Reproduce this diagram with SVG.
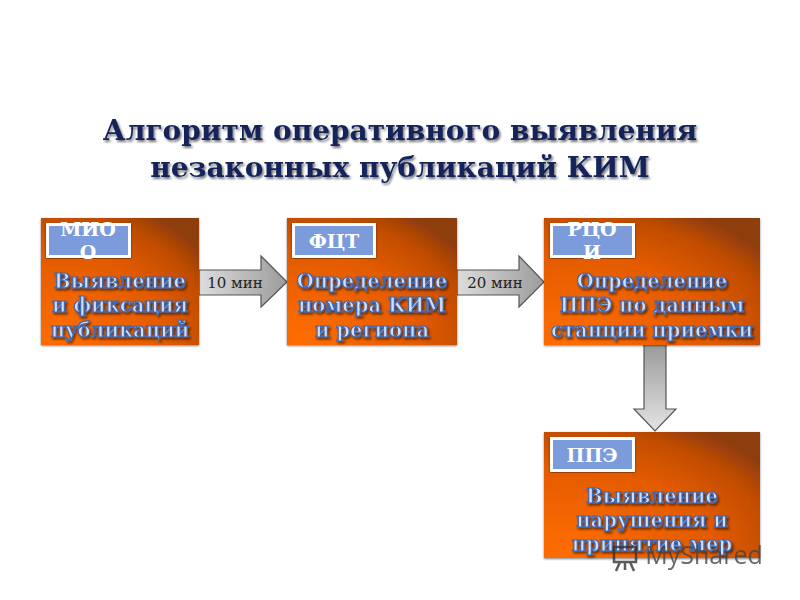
<svg xmlns="http://www.w3.org/2000/svg" width="800" height="600" viewBox="0 0 800 600">
<style>
text{font-family:"DejaVu Serif","Liberation Serif",serif;text-anchor:middle}
.title{font-size:28px;font-weight:bold;fill:#12245a;filter:url(#ts)}
.body{font-size:19.6px;font-weight:bold;fill:#d3e0f4;stroke:#3f67b3;stroke-width:1.2px;filter:url(#ts)}
.box{fill:url(#org);filter:url(#bs)}
.tagbox{fill:#7c9bdb;stroke:#fff;stroke-width:3px;filter:url(#bs)}
.tag{font-size:19px;font-weight:bold;fill:#fff}
.arr{fill:url(#gr);stroke:#555;stroke-width:1.2px}
.arrv{fill:url(#grv);stroke:#555;stroke-width:1.2px}
.min{font-size:15px;fill:#222}
</style>
<defs>
<radialGradient id="org" cx="0.1" cy="0.95" r="1.15"><stop offset="0" stop-color="#ff6d05"/><stop offset="0.6" stop-color="#e25a04"/><stop offset="0.85" stop-color="#c04c05"/><stop offset="1" stop-color="#8e3c08"/></radialGradient>
<linearGradient id="gr" x1="0" y1="0" x2="1" y2="0"><stop offset="0" stop-color="#dcdcdc"/><stop offset="1" stop-color="#9c9c9c"/></linearGradient>
<linearGradient id="grv" x1="0" y1="0" x2="0" y2="1"><stop offset="0" stop-color="#9a9a9a"/><stop offset="1" stop-color="#e4e4e4"/></linearGradient>
<filter id="ts" x="-5%" y="-20%" width="110%" height="150%"><feDropShadow dx="1.5" dy="2" stdDeviation="1.2" flood-color="#000" flood-opacity="0.55"/></filter>
<filter id="bs" x="-5%" y="-5%" width="110%" height="110%"><feDropShadow dx="0" dy="1" stdDeviation="1.2" flood-color="#000" flood-opacity="0.5"/></filter>
</defs>
<rect width="800" height="600" fill="#fff"/>
<g id="title"><text class="title" x="400" y="140">Алгоритм оперативного выявления</text><text class="title" x="400" y="177">незаконных публикаций КИМ</text></g>
<g id="connectors">
<g id="c1"><path class="arr" d="M199 270H261V256L287 282L261 307V295H199Z"/><text class="min" x="235" y="288">10 мин</text></g>
<g id="c2"><path class="arr" d="M457 270H519V256L544 282L519 307V295H457Z"/><text class="min" x="495" y="288">20 мин</text></g>
<path id="c3" class="arrv" d="M644 344H666V409H676L655 431L634 409H644Z"/>
</g>
<g id="n1"><rect class="box" x="41" y="218" width="158" height="127"/><rect class="tagbox" x="47.5" y="224.5" width="82" height="32"/>
<text class="tag" x="88" y="236">МИО</text><text class="tag" x="88" y="259">О</text>
<text class="body" x="120" y="288">Выявление</text><text class="body" x="120" y="312">и фиксация</text><text class="body" x="120" y="337">публикаций</text></g>
<g id="n2"><rect class="box" x="287" y="218" width="170" height="127"/><rect class="tagbox" x="293.5" y="224.5" width="81" height="32"/>
<text class="tag" x="334" y="248">ФЦТ</text>
<text class="body" x="372" y="288">Определение</text><text class="body" x="372" y="312">номера КИМ</text><text class="body" x="372" y="337">и региона</text></g>
<g id="n3"><rect class="box" x="544" y="218" width="216" height="127"/><rect class="tagbox" x="551.5" y="224.5" width="82" height="32"/>
<text class="tag" x="592" y="236">РЦО</text><text class="tag" x="592" y="259">И</text>
<text class="body" x="652" y="288">Определение</text><text class="body" x="652" y="312">ППЭ по данным</text><text class="body" x="652" y="337">станции приемки</text></g>
<g id="n4"><rect class="box" x="544" y="432" width="216" height="126"/><rect class="tagbox" x="551.5" y="438.5" width="82" height="32"/>
<text class="tag" x="592" y="462">ППЭ</text>
<text class="body" x="652" y="503">Выявление</text><text class="body" x="652" y="527">нарушения и</text><text class="body" x="652" y="551">принятие мер</text></g>
<g id="watermark" opacity="0.8" fill="none" stroke="#333" stroke-width="2.5"><rect x="614" y="547" width="22" height="15"/><path d="M625 562V570M620 562L616 571M630 562L634 571"/>
<text x="704" y="564" font-size="25" fill="#444" stroke="none" style="font-family:'Open Sans',sans-serif">MyShared</text></g>
</svg>
